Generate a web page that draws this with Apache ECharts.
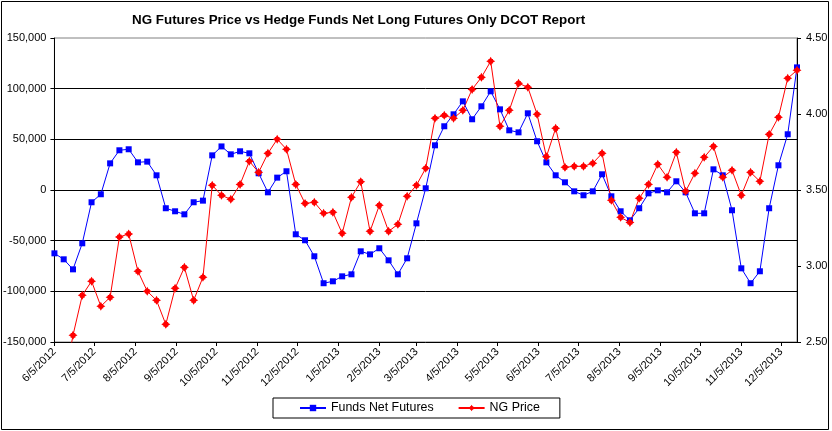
<!DOCTYPE html>
<html>
<head>
<meta charset="utf-8">
<title>NG Futures Price vs Hedge Funds Net Long</title>
<script src="https://cdn.jsdelivr.net/npm/echarts@6/dist/echarts.min.js"></script>
<style>
html, body { margin: 0; padding: 0; background: #fff; }
#chart { width: 832px; height: 431px; }
</style>
</head>
<body>
<div id="chart"></div>
<script>
//-----------------------------------------data-----------------------------------------
//weekly report dates (Tuesdays)
var weekDates = [
    '2012-06-05','2012-06-12','2012-06-19','2012-06-26','2012-07-03','2012-07-10','2012-07-17','2012-07-24',
    '2012-07-31','2012-08-07','2012-08-14','2012-08-21','2012-08-28','2012-09-04','2012-09-11','2012-09-18',
    '2012-09-25','2012-10-02','2012-10-09','2012-10-16','2012-10-23','2012-10-30','2012-11-06','2012-11-13',
    '2012-11-20','2012-11-27','2012-12-04','2012-12-11','2012-12-18','2012-12-25','2013-01-01','2013-01-08',
    '2013-01-15','2013-01-22','2013-01-29','2013-02-05','2013-02-12','2013-02-19','2013-02-26','2013-03-05',
    '2013-03-12','2013-03-19','2013-03-26','2013-04-02','2013-04-09','2013-04-16','2013-04-23','2013-04-30',
    '2013-05-07','2013-05-14','2013-05-21','2013-05-28','2013-06-04','2013-06-11','2013-06-18','2013-06-25',
    '2013-07-02','2013-07-09','2013-07-16','2013-07-23','2013-07-30','2013-08-06','2013-08-13','2013-08-20',
    '2013-08-27','2013-09-03','2013-09-10','2013-09-17','2013-09-24','2013-10-01','2013-10-08','2013-10-15',
    '2013-10-22','2013-10-29','2013-11-05','2013-11-12','2013-11-19','2013-11-26','2013-12-03','2013-12-10',
    '2013-12-17'
];
//hedge funds net long futures (contracts)
var fundsNetFutures = [
    -62500, -68400, -78300, -52600, -12100, -4200, 26300, 39200,
    40200, 27300, 28000, 14500, -18000, -21000, -24000, -12100,
    -10500, 34200, 43000, 35200, 38200, 36200, 16500, -2300,
    12200, 18500, -43700, -49600, -65400, -92000, -90100, -85200,
    -83200, -60500, -63500, -57500, -69400, -83200, -67400, -32900,
    1700, 44100, 62900, 74700, 87500, 69800, 82600, 97400,
    79600, 58900, 56900, 75700, 48100, 27300, 14500, 7600,
    -1300, -5200, -1300, 15500, -6200, -21000, -29900, -18000,
    -3300, -300, -2300, 8600, -2300, -23000, -23000, 20400,
    14500, -20000, -77300, -92000, -80200, -18000, 24400, 55000,
    121000
];
//NG futures price ($/MMBtu)
var ngPrice = [
    2.34, 2.21, 2.544, 2.807, 2.900, 2.735, 2.794, 3.191,
    3.211, 2.965, 2.834, 2.774, 2.616, 2.853, 2.991, 2.774,
    2.926, 3.531, 3.465, 3.439, 3.537, 3.689, 3.616, 3.741,
    3.834, 3.768, 3.537, 3.412, 3.419, 3.347, 3.353, 3.215,
    3.452, 3.555, 3.228, 3.399, 3.228, 3.274, 3.459, 3.531,
    3.643, 3.972, 3.991, 3.972, 4.024, 4.162, 4.241, 4.347,
    3.919, 4.024, 4.202, 4.176, 3.998, 3.719, 3.906, 3.649,
    3.656, 3.656, 3.676, 3.741, 3.432, 3.320, 3.287, 3.445,
    3.537, 3.669, 3.584, 3.748, 3.491, 3.610, 3.715, 3.787,
    3.584, 3.630, 3.465, 3.616, 3.557, 3.866, 3.978, 4.235,
    4.288
];
//x axis tick dates
var tickDates = [
    '2012-06-05','2012-07-05','2012-08-05','2012-09-05','2012-10-05','2012-11-05','2012-12-05',
    '2013-01-05','2013-02-05','2013-03-05','2013-04-05','2013-05-05','2013-06-05','2013-07-05',
    '2013-08-05','2013-09-05','2013-10-05','2013-11-05','2013-12-05'
];
var fundsTicks = [-150000, -100000, -50000, 0, 50000, 100000, 150000];
var priceTicks = [2.5, 3.0, 3.5, 4.0, 4.5];

//-----------------------------------------helpers-----------------------------------------
function toTime(s){
    var p = s.split('-');
    return new Date(+p[0], +p[1] - 1, +p[2]).getTime();
}
function fmtDate(v){
    var d = new Date(v);
    return (d.getMonth() + 1) + '/' + d.getDate() + '/' + d.getFullYear();
}
function fmtThousands(v){
    var s = Math.abs(v).toString().replace(/\B(?=(\d{3})+(?!\d))/g, ',');
    return (v < 0 ? '-' : '') + s;
}
function pairs(values){
    var out = [];
    for(var i = 0; i < weekDates.length; i++){
        out.push([toTime(weekDates[i]), values[i]]);
    }
    return out;
}

//-----------------------------------------chart-----------------------------------------
var FONT = 'Arial, "Liberation Sans", sans-serif';
var chart = echarts.init(document.getElementById('chart'), null, {renderer: 'canvas'});
var tickTimes = tickDates.map(toTime);
var option = {
    backgroundColor: '#fff',
    animation: false,
    title: {
        text: 'NG Futures Price vs Hedge Funds Net Long Futures Only DCOT Report',
        left: 132,
        top: 14,
        padding: 0,
        textStyle: {fontFamily: FONT, fontSize: 13.4, fontWeight: 'bold', color: '#000'}
    },
    legend: {
        left: 273,
        top: 398,
        orient: 'horizontal',
        itemWidth: 26,
        itemHeight: 8,
        itemGap: 24,
        padding: [4, 20, 4, 26],
        borderColor: '#000',
        borderWidth: 1,
        textStyle: {fontFamily: FONT, fontSize: 12.4, color: '#000'},
        data: ['Funds Net Futures', 'NG Price']
    },
    grid: {
        left: 54,
        right: 35,
        top: 38,
        bottom: 89,
        show: true,
        borderColor: '#808080',
        borderWidth: 1
    },
    xAxis: {
        type: 'value',
        min: toTime(weekDates[0]),
        max: toTime(weekDates[weekDates.length - 1]),
        axisLine: {onZero: false, lineStyle: {color: '#000', width: 1}},
        axisTick: {show: true, length: 4, customValues: tickTimes, lineStyle: {color: '#000'}},
        axisLabel: {
            customValues: tickTimes,
            rotate: 45,
            margin: 8,
            fontFamily: FONT,
            fontSize: 11,
            color: '#000',
            formatter: function(v){ return fmtDate(v); }
        },
        splitLine: {show: false}
    },
    yAxis: [{
        type: 'value',
        min: fundsTicks[0],
        max: fundsTicks[fundsTicks.length - 1],
        interval: 50000,
        axisLine: {show: true, lineStyle: {color: '#000'}},
        axisTick: {show: true, length: 4, lineStyle: {color: '#000'}},
        axisLabel: {
            margin: 8, fontFamily: FONT, fontSize: 11, color: '#000',
            formatter: function(v){ return fmtThousands(v); }
        },
        splitLine: {show: true, showMaxLine: false, showMinLine: false, lineStyle: {color: '#000', width: 1}}
    }, {
        type: 'value',
        position: 'right',
        min: priceTicks[0],
        max: priceTicks[priceTicks.length - 1],
        interval: 0.5,
        axisLine: {show: true, lineStyle: {color: '#000'}},
        axisTick: {show: true, length: 4, lineStyle: {color: '#000'}},
        axisLabel: {
            margin: 9, fontFamily: FONT, fontSize: 11, color: '#000',
            formatter: function(v){ return v.toFixed(2); }
        },
        splitLine: {show: false}
    }],
    series: [{
        name: 'Funds Net Futures',
        type: 'line',
        yAxisIndex: 0,
        data: pairs(fundsNetFutures),
        symbol: 'rect',
        symbolSize: 6,
        showAllSymbol: true,
        clip: true,
        itemStyle: {color: '#0000ff'},
        lineStyle: {color: '#0000ff', width: 1}
    }, {
        name: 'NG Price',
        type: 'line',
        yAxisIndex: 1,
        data: pairs(ngPrice),
        //star marker: diamond with cross arms
        symbol: 'path://M0,-5 L1.4,-2.6 L2.6,-2.6 L2.6,-1.4 L5,0 L2.6,1.4 L2.6,2.6 L1.4,2.6 L0,5 L-1.4,2.6 L-2.6,2.6 L-2.6,1.4 L-5,0 L-2.6,-1.4 L-2.6,-2.6 L-1.4,-2.6 Z',
        symbolSize: 9,
        showAllSymbol: true,
        clip: true,
        itemStyle: {color: '#ff0000'},
        lineStyle: {color: '#ff0000', width: 1}
    }],
    graphic: [{
        type: 'rect',
        shape: {x: 1.5, y: 1.5, width: 827, height: 428},
        style: {fill: 'none', stroke: '#000', lineWidth: 1},
        silent: true
    }]
};
chart.setOption(option);
</script>
</body>
</html>
